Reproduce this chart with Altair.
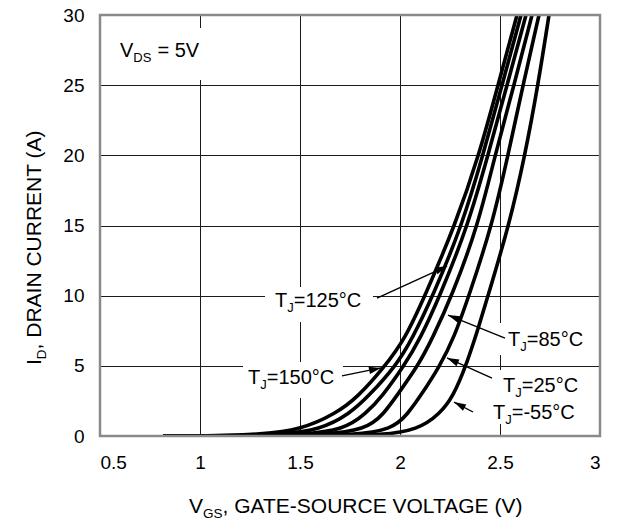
import math
import altair as alt
import pandas as pd

# ---------------- data ----------------
X_DOMAIN = [0.5, 3.0]
Y_DOMAIN = [0, 30]
W, H = 500, 421
PX_V = W / (X_DOMAIN[1] - X_DOMAIN[0])   # pixels per volt
PX_A = H / (Y_DOMAIN[1] - Y_DOMAIN[0])   # pixels per amp

x_ticks = [0.5, 1, 1.5, 2, 2.5, 3]
y_ticks = [0, 5, 10, 15, 20, 25, 30]

curve_temps = ["150", "125", "100", "85", "25", "-55"]
vgs_150 = [0.815, 1.10, 1.30, 1.50, 1.68, 1.79, 1.915, 2.025, 2.125, 2.275, 2.395, 2.49, 2.585]
id_150 = [0, 0.02, 0.12, 0.43, 1.6, 2.8, 4.8, 6.9, 10, 15, 20, 25, 30]
vgs_125 = [0.815, 1.20, 1.40, 1.60, 1.75, 1.84, 1.98, 2.06, 2.165, 2.31, 2.415, 2.51, 2.605]
id_125 = [0, 0.02, 0.12, 0.43, 1.6, 2.8, 5.0, 6.9, 10, 15, 20, 25, 30]
vgs_100 = [0.815, 1.30, 1.50, 1.72, 1.83, 1.91, 2.02, 2.10, 2.20, 2.34, 2.44, 2.535, 2.63]
id_100 = [0, 0.01, 0.10, 0.43, 1.6, 2.8, 5.0, 6.9, 10, 15, 20, 25, 30]
vgs_85 = [0.815, 1.40, 1.60, 1.83, 1.92, 1.98, 2.09, 2.16, 2.26, 2.39, 2.475, 2.57, 2.66]
id_85 = [0, 0.01, 0.08, 0.43, 1.6, 2.8, 5.0, 6.9, 10, 15, 20, 25, 30]
vgs_25 = [0.815, 1.55, 1.75, 1.96, 2.04, 2.10, 2.20, 2.27, 2.345, 2.46, 2.54, 2.615, 2.695]
id_25 = [0, 0.01, 0.07, 0.43, 1.6, 2.8, 5.0, 7.0, 10, 15, 20, 25, 30]
vgs_m55 = [0.815, 1.70, 1.90, 2.09, 2.20, 2.265, 2.33, 2.39, 2.44, 2.545, 2.625, 2.69, 2.745]
id_m55 = [0, 0.01, 0.06, 0.43, 1.6, 2.8, 5.0, 7.6, 10, 15, 20, 25, 30]

curve_vgs = [vgs_150, vgs_125, vgs_100, vgs_85, vgs_25, vgs_m55]
curve_id = [id_150, id_125, id_100, id_85, id_25, id_m55]

# annotation labels  (T + subscript J + rest)
label_rest = ["=125°C", "=150°C", "=85°C", "=25°C", "=-55°C"]
label_v = [1.375, 1.24, 2.54, 2.515, 2.465]   # left edge of text (V)
label_i = [9.19, 3.71, 6.41, 3.14, 1.21]      # baseline (A)

# arrows: start (near label) -> tip (on curve)
arrow_v0 = [1.885, 1.71, 2.525, 2.46, 2.365]
arrow_i0 = [9.83, 4.28, 6.98, 4.13, 1.71]
arrow_v1 = [2.235, 1.905, 2.24, 2.235, 2.27]
arrow_i1 = [12.11, 4.85, 8.62, 5.56, 2.42]

# white boxes behind labels
box_v1 = [1.325, 1.215, 2.50, 2.475, 2.44, 0.55]
box_v2 = [1.865, 1.715, 2.985, 2.925, 2.91, 1.025]
box_i1 = [8.12, 2.71, 5.77, 2.71, 0.855, 25.37]
box_i2 = [10.62, 5.27, 8.05, 4.70, 2.71, 29.07]

# V_DS note
vds_v, vds_i = 0.60, 27.0

FONT = "Liberation Sans"
LABEL_FS, SUB_FS = 20, 13
TICK_FS = 19
TITLE_FS, TITLE_SUB_FS = 21, 13.5
SUB_DROP = 5  # px

# Helvetica/Arial advance widths (per 1000 em)
CW = {"T": 611, "J": 500, "=": 584, "0": 556, "1": 556, "2": 556, "3": 556, "5": 556,
      "8": 556, "°": 400, "C": 722, "-": 333, "V": 667, "D": 722, "S": 667, " ": 278,
      "G": 778, "A": 667, "E": 667, "O": 778, "U": 722, "R": 722, "L": 556,
      "I": 278, "N": 722, "(": 333, ")": 333, ",": 278}


def tw(s, fs):
    return sum(CW.get(c, 556) for c in s) / 1000.0 * fs


# ---------------- tables ----------------
rows = []
for t, vs, ids in zip(curve_temps, curve_vgs, curve_id):
    for k, (v, i) in enumerate(zip(vs, ids)):
        rows.append({"temp": t, "k": k, "vgs": v, "id": i})
curves = pd.DataFrame(rows)

pieces = []
for rest, v0, i0 in zip(label_rest, label_v, label_i):
    parts = [("T", False, 0), ("J", True, 0), (rest, False, 0)]
    off = 0.0
    for txt, sub, gap in parts:
        fs = SUB_FS if sub else LABEL_FS
        off += gap
        pieces.append({"vgs": v0 + off / PX_V,
                       "id": i0 - (SUB_DROP / PX_A if sub else 0),
                       "txt": txt, "fs": fs})
        off += tw(txt, fs)
off = 0.0
for txt, sub, gap in [("V", False, 0), ("DS", True, 0), ("= 5V", False, 6)]:
    fs = SUB_FS if sub else LABEL_FS
    off += gap
    pieces.append({"vgs": vds_v + off / PX_V,
                   "id": vds_i - (SUB_DROP / PX_A if sub else 0),
                   "txt": txt, "fs": fs})
    off += tw(txt, fs)
texts = pd.DataFrame(pieces)

arr = []
for a, b, c, d in zip(arrow_v0, arrow_i0, arrow_v1, arrow_i1):
    dx = (c - a) * PX_V
    dy = -(d - b) * PX_A
    ang = math.degrees(math.atan2(dx, -dy)) % 360
    arr.append({"v0": a, "i0": b, "v1": c, "i1": d, "ang": ang})
arrows = pd.DataFrame(arr)

boxes = pd.DataFrame({"v1": box_v1, "v2": box_v2, "i1": box_i1, "i2": box_i2})

# ---------------- chart ----------------
xscale = alt.Scale(domain=X_DOMAIN, nice=False, zero=False)
yscale = alt.Scale(domain=Y_DOMAIN, nice=False)

xaxis = alt.Axis(values=x_ticks, format="~g", grid=True, ticks=False, tickSize=0,
                 domain=False, title=None, labelPadding=17, labelFontSize=TICK_FS,
                 labelFont=FONT, labelColor="black", gridColor="#1a1a1a", gridWidth=1)
yaxis = alt.Axis(values=y_ticks, format="~g", grid=True, ticks=False, tickSize=0,
                 domain=False, title=None, labelPadding=16, labelFontSize=TICK_FS,
                 labelFont=FONT, labelColor="black", gridColor="#1a1a1a", gridWidth=1)

base_lines = alt.Chart(curves).mark_line(
    color="black", strokeWidth=3.6, interpolate="basis", clip=True
).encode(
    x=alt.X("vgs:Q", scale=xscale, axis=xaxis),
    y=alt.Y("id:Q", scale=yscale, axis=yaxis),
    detail="temp:N",
    order="k:Q",
)

box_layer = alt.Chart(boxes).mark_rect(fill="white").encode(
    x="v1:Q", x2="v2", y="i1:Q", y2="i2"
)

rule_layer = alt.Chart(arrows).mark_rule(color="black", strokeWidth=1.4).encode(
    x="v0:Q", y="i0:Q", x2="v1", y2="i1"
)

head_layer = alt.Chart(arrows).mark_point(
    shape="M0,0 L-0.6,2 L0.6,2 Z", filled=True, size=144, color="black", opacity=1
).encode(
    x="v1:Q", y="i1:Q", angle=alt.Angle("ang:Q", scale=None)
)

text_layer = alt.Chart(texts).mark_text(
    align="left", baseline="alphabetic", font=FONT, color="black"
).encode(
    x="vgs:Q", y="id:Q", text="txt:N", size=alt.Size("fs:Q", scale=None)
)

# axis titles with subscripts (pixel positions relative to plot origin)
title_layers = []
xt_x, xt_y = 89, 498
off = 0.0
for txt, sub in [("V", False), ("GS", True), (", GATE-SOURCE VOLTAGE (V)", False)]:
    fs = TITLE_SUB_FS if sub else TITLE_FS
    title_layers.append(
        alt.Chart(pd.DataFrame({"t": [txt]})).mark_text(
            align="left", baseline="alphabetic", font=FONT, fontSize=fs, color="black"
        ).encode(x=alt.value(xt_x + off), y=alt.value(xt_y + (SUB_DROP if sub else 0)), text="t:N")
    )
    off += tw(txt, fs)

yt_x, yt_y = -59.5, 350
off = 0.0
for txt, sub in [("I", False), ("D", True), (", DRAIN CURRENT (A)", False)]:
    fs = TITLE_SUB_FS if sub else TITLE_FS
    title_layers.append(
        alt.Chart(pd.DataFrame({"t": [txt]})).mark_text(
            align="left", baseline="alphabetic", font=FONT, fontSize=fs, color="black", angle=270
        ).encode(x=alt.value(yt_x + (SUB_DROP if sub else 0)), y=alt.value(yt_y - off), text="t:N")
    )
    off += tw(txt, fs)

frame = alt.Chart(pd.DataFrame({"a": [0]})).mark_rect(
    fillOpacity=0, stroke="#8a8a8a", strokeWidth=2.5
).encode(x=alt.value(0), x2=alt.value(W), y=alt.value(0), y2=alt.value(H))

chart = alt.layer(
    box_layer, base_lines, rule_layer, head_layer, text_layer, *title_layers, frame
).properties(
    width=W, height=H,
    autosize=alt.AutoSizeParams(type="none"),
    padding={"left": 100, "top": 15, "right": 21, "bottom": 86},
).configure_view(stroke=None).configure(background="white")

chart.save("out.html", embed_options={"renderer": "svg", "actions": False})
